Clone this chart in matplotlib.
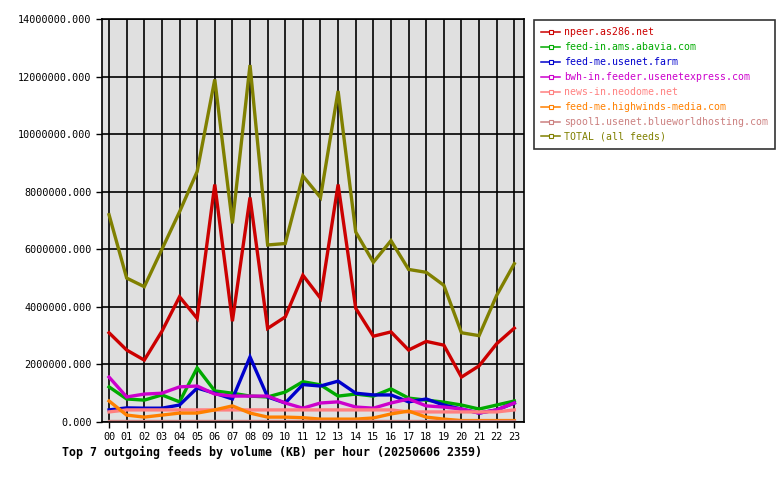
# Top 7 outgoing feeds by volume per hour - recreated chart
import matplotlib
matplotlib.use("Agg")
import matplotlib.pyplot as plt
from matplotlib.lines import Line2D
from matplotlib.ticker import FuncFormatter

hours = ["%02d" % h for h in range(24)]

npeer = [3.1, 2.5, 2.15, 3.15, 4.35, 3.6, 8.25, 3.5, 7.8, 3.25, 3.65, 5.1,
         4.3, 8.25, 3.95, 2.98, 3.13, 2.5, 2.8, 2.67, 1.56, 1.95, 2.72, 3.26]
abavia = [1.22, 0.8, 0.76, 0.94, 0.7, 1.88, 1.08, 1.0, 0.9, 0.87, 1.04, 1.4,
          1.29, 0.9, 0.97, 0.9, 1.15, 0.83, 0.76, 0.69, 0.59, 0.45, 0.59, 0.73]
usenetfarm = [0.42, 0.49, 0.48, 0.48, 0.59, 1.18, 1.0, 0.8, 2.26, 0.87, 0.66, 1.3,
              1.25, 1.42, 1.0, 0.94, 0.94, 0.7, 0.8, 0.59, 0.45, 0.31, 0.42, 0.66]
usenetexpress = [1.56, 0.87, 0.97, 1.0, 1.22, 1.25, 0.97, 0.9, 0.9, 0.9, 0.66, 0.48,
                 0.66, 0.7, 0.52, 0.48, 0.66, 0.8, 0.56, 0.52, 0.45, 0.31, 0.42, 0.66]
neodome = [0.35, 0.42, 0.42, 0.42, 0.42, 0.42, 0.42, 0.42, 0.42, 0.42, 0.42, 0.42,
           0.42, 0.42, 0.42, 0.42, 0.42, 0.35, 0.35, 0.35, 0.35, 0.35, 0.35, 0.42]
highwinds = [0.73, 0.24, 0.17, 0.24, 0.31, 0.31, 0.42, 0.56, 0.31, 0.17, 0.17, 0.15,
             0.1, 0.1, 0.1, 0.14, 0.28, 0.38, 0.17, 0.1, 0.05, 0.05, 0.05, 0.05]
blueworld = [0.05] * 24
total = [7.2, 5.0, 4.7, 6.0, 7.3, 8.7, 11.9, 6.9, 12.4, 6.15, 6.2, 8.55,
         7.8, 11.5, 6.6, 5.55, 6.3, 5.3, 5.2, 4.75, 3.1, 3.0, 4.4, 5.5]

series = [
    ("npeer.as286.net", npeer, "#cc0000"),
    ("feed-in.ams.abavia.com", abavia, "#00aa00"),
    ("feed-me.usenet.farm", usenetfarm, "#0000cc"),
    ("bwh-in.feeder.usenetexpress.com", usenetexpress, "#cc00cc"),
    ("news-in.neodome.net", neodome, "#ff8080"),
    ("feed-me.highwinds-media.com", highwinds, "#ff8000"),
    ("spool1.usenet.blueworldhosting.com", blueworld, "#cc8080"),
    ("TOTAL (all feeds)", total, "#808000"),
]

plt.rcParams['font.family'] = ['DejaVu Sans Mono']

fig = plt.figure(figsize=(7.8, 4.8), dpi=100)
ax = fig.add_axes([102 / 780, 58 / 480, 422 / 780, 403 / 480])
ax.set_facecolor("#e0e0e0")

x = list(range(24))
handles = []
for name, vals, color in series:
    ax.plot(x, [v * 1e6 for v in vals], color=color, lw=2.4,
            solid_joinstyle='miter')
    handles.append(Line2D([], [], color=color, lw=1.1, marker='s',
                          markersize=2.5, markerfacecolor='white',
                          markeredgewidth=0.8, label=name))

ax.set_xlim(-0.4, 23.55)
ax.set_ylim(0, 14e6)
ax.set_xticks(x)
ax.set_xticklabels(hours)
ax.set_yticks([i * 2e6 for i in range(8)])
ax.yaxis.set_major_formatter(FuncFormatter(lambda v, p: "%.3f" % v))
ax.tick_params(labelsize=7.3, length=4, width=1, direction='out')
ax.grid(True, color='black', lw=1.2)
ax.set_axisbelow(True)
for s in ax.spines.values():
    s.set_linewidth(1.2)

leg = fig.legend(handles=handles, loc='upper left',
                 bbox_to_anchor=(534 / 780, 1 - 20 / 480),
                 fontsize=7.1, labelcolor='linecolor', frameon=True,
                 fancybox=False, edgecolor='black', handlelength=1.9,
                 handletextpad=0.4, borderpad=0.75, labelspacing=0.5,
                 borderaxespad=0)
leg.get_frame().set_linewidth(1.2)

fig.text(62 / 780, 1 - 452 / 480,
         "Top 7 outgoing feeds by volume (KB) per hour (20250606 2359)",
         fontsize=8.4, fontweight='bold', va='center', ha='left')

fig.savefig("out.png", dpi=100)
